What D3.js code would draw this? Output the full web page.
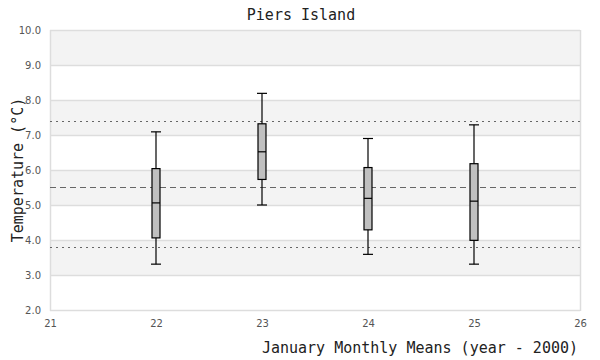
<!DOCTYPE html>
<html><head><meta charset="utf-8">
<script src="https://cdn.jsdelivr.net/npm/d3@7"></script>
<style>body{margin:0;background:#fff}</style>
</head><body>
<svg id="c" width="600" height="360"></svg>
<script>
const years = [22, 23, 24, 25];
const whiskerLow = [3.31, 5.0, 3.59, 3.31];
const q1 = [4.06, 5.73, 4.29, 3.99];
const median = [5.06, 6.52, 5.19, 5.11];
const q3 = [6.04, 7.32, 6.07, 6.18];
const whiskerHigh = [7.09, 8.19, 6.9, 7.29];
const meanLine = 5.52;
const sdLines = [7.4, 3.8];
const yTicks = [2, 3, 4, 5, 6, 7, 8, 9, 10];
const xTicks = [21, 22, 23, 24, 25, 26];

const svg = d3.select("#c");
const m = {l: 50, r: 580, t: 30, b: 310};
const x = d3.scaleLinear().domain([21, 26]).range([m.l, m.r]);
const y = d3.scaleLinear().domain([2, 10]).range([m.b, m.t]);

// bands
const bands = d3.range(2, 10).map(v => ({lo: v, hi: v + 1}));
svg.selectAll("rect.band").data(bands).enter().append("rect")
  .attr("x", m.l).attr("width", m.r - m.l)
  .attr("y", d => y(d.hi)).attr("height", d => y(d.lo) - y(d.hi))
  .attr("fill", (d, i) => i % 2 === 1 ? "#f3f3f3" : "#ffffff");

// grid
svg.selectAll("line.grid").data(yTicks).enter().append("line")
  .attr("x1", m.l).attr("x2", m.r)
  .attr("y1", d => Math.round(y(d)) + 0.5).attr("y2", d => Math.round(y(d)) + 0.5)
  .attr("stroke", "#dddddd").attr("stroke-width", 1.5);
svg.append("line").attr("x1", m.l + 0.5).attr("x2", m.l + 0.5).attr("y1", m.t).attr("y2", m.b + 1)
  .attr("stroke", "#dddddd").attr("stroke-width", 1.5);
svg.append("line").attr("x1", m.r + 0.5).attr("x2", m.r + 0.5).attr("y1", m.t).attr("y2", m.b + 1)
  .attr("stroke", "#dddddd").attr("stroke-width", 1.5);

// axes
const yAxis = d3.axisLeft(y).tickValues(yTicks).tickFormat(d3.format(".1f")).tickSize(0).tickPadding(9);
const gy = svg.append("g").attr("transform", `translate(${m.l},0)`).call(yAxis);
gy.select(".domain").remove();
gy.selectAll("text").attr("font-family", "DejaVu Sans, sans-serif").attr("font-size", 10).attr("fill", "#555");

const xAxis = d3.axisBottom(x).tickValues(xTicks).tickFormat(d3.format("d")).tickSize(0).tickPadding(10);
const gx = svg.append("g").attr("transform", `translate(0,${m.b})`).call(xAxis);
gx.select(".domain").remove();
gx.selectAll("text").attr("font-family", "DejaVu Sans, sans-serif").attr("font-size", 10).attr("fill", "#555");

// reference lines
svg.append("line").attr("x1", m.l).attr("x2", m.r)
  .attr("y1", Math.round(y(meanLine)) + 0.5).attr("y2", Math.round(y(meanLine)) + 0.5)
  .attr("stroke", "#666").attr("stroke-width", 1).attr("stroke-dasharray", "6,4");
svg.selectAll("line.sd").data(sdLines).enter().append("line")
  .attr("x1", m.l).attr("x2", m.r)
  .attr("y1", d => Math.round(y(d)) + 0.5).attr("y2", d => Math.round(y(d)) + 0.5)
  .attr("stroke", "#666").attr("stroke-width", 1).attr("stroke-dasharray", "2,4");

// boxes
const data = years.map((yr, i) => ({yr, lo: whiskerLow[i], q1: q1[i], med: median[i], q3: q3[i], hi: whiskerHigh[i]}));
const bw = 8, cw = 10;
const g = svg.selectAll("g.box").data(data).enter().append("g");
g.append("line").attr("x1", d => x(d.yr)).attr("x2", d => x(d.yr))
  .attr("y1", d => y(d.hi)).attr("y2", d => y(d.lo)).attr("stroke", "#000").attr("stroke-width", 1.2);
g.append("line").attr("x1", d => x(d.yr) - cw / 2).attr("x2", d => x(d.yr) + cw / 2)
  .attr("y1", d => y(d.hi)).attr("y2", d => y(d.hi)).attr("stroke", "#000").attr("stroke-width", 1.2);
g.append("line").attr("x1", d => x(d.yr) - cw / 2).attr("x2", d => x(d.yr) + cw / 2)
  .attr("y1", d => y(d.lo)).attr("y2", d => y(d.lo)).attr("stroke", "#000").attr("stroke-width", 1.2);
g.append("rect").attr("x", d => x(d.yr) - bw / 2).attr("width", bw)
  .attr("y", d => y(d.q3)).attr("height", d => y(d.q1) - y(d.q3))
  .attr("fill", "#c0c0c0").attr("stroke", "#000").attr("stroke-width", 1.2);
g.append("line").attr("x1", d => x(d.yr) - bw / 2).attr("x2", d => x(d.yr) + bw / 2)
  .attr("y1", d => y(d.med)).attr("y2", d => y(d.med)).attr("stroke", "#000").attr("stroke-width", 1.2);

// titles
const mono = "DejaVu Sans Mono, monospace";
svg.append("text").attr("x", 301).attr("y", 20).attr("text-anchor", "middle")
  .attr("font-family", mono).attr("font-size", 15).attr("fill", "#222").text("Piers Island");
svg.append("text").attr("x", 578).attr("y", 353).attr("text-anchor", "end")
  .attr("font-family", mono).attr("font-size", 15).attr("fill", "#222").text("January Monthly Means (year - 2000)");
svg.append("text").attr("transform", "translate(23,170) rotate(-90)").attr("text-anchor", "middle")
  .attr("font-family", mono).attr("font-size", 15).attr("fill", "#222").text("Temperature (°C)");
</script>
</body></html>
